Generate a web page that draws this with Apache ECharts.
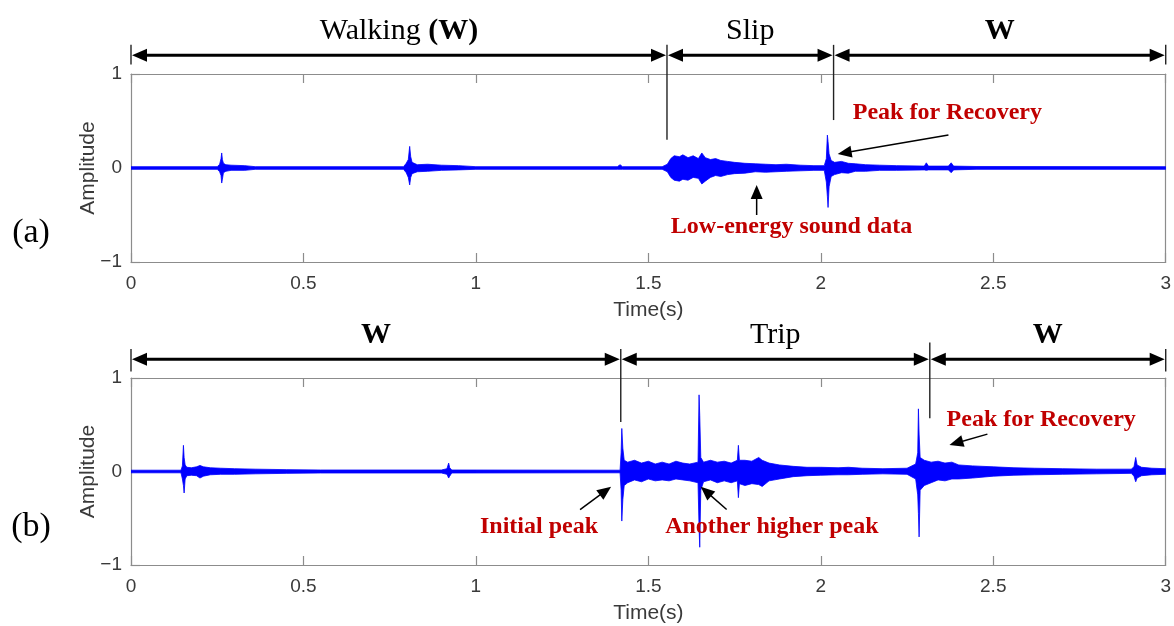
<!DOCTYPE html>
<html>
<head>
<meta charset="utf-8">
<script src="https://cdn.jsdelivr.net/npm/echarts@6/dist/echarts.min.js"></script>
<style>
  html, body { margin: 0; background: #fff; }
  #chart { width: 1174px; height: 626px; }
</style>
</head>
<body>
<div id="chart"></div>
<script>
// (a) slip recording: amplitude envelope (time in s, upper / lower)
const slipTime = [0, 0.25, 0.257, 0.261, 0.263, 0.265, 0.268, 0.275, 0.29, 0.33, 0.36, 0.79, 0.798, 0.804, 0.808, 0.811, 0.815, 0.83, 0.86, 0.9, 0.95, 1.0,
  1.41, 1.418, 1.425, 1.54, 1.555, 1.565, 1.575, 1.59, 1.6, 1.615, 1.63, 1.645, 1.655, 1.665, 1.68, 1.695, 1.71, 1.73, 1.75, 1.78, 1.81, 1.84, 1.87, 1.9, 1.94, 1.98,
  2.01, 2.016, 2.019, 2.021, 2.024, 2.03, 2.04, 2.06, 2.08, 2.1, 2.13, 2.17, 2.22, 2.3, 2.306, 2.312, 2.37, 2.378, 2.385, 2.45, 3]
const slipHi = [0.014, 0.014, 0.04, 0.1, 0.16, 0.09, 0.05, 0.035, 0.03, 0.025, 0.014, 0.014, 0.05, 0.09, 0.23, 0.12, 0.06, 0.035, 0.04, 0.03, 0.025, 0.014,
  0.014, 0.035, 0.014, 0.014, 0.04, 0.1, 0.13, 0.12, 0.14, 0.11, 0.13, 0.1, 0.16, 0.11, 0.09, 0.1, 0.08, 0.07, 0.06, 0.05, 0.045, 0.04, 0.035, 0.04, 0.03, 0.025,
  0.025, 0.1, 0.35, 0.28, 0.15, 0.08, 0.06, 0.07, 0.05, 0.045, 0.035, 0.03, 0.025, 0.02, 0.055, 0.02, 0.02, 0.055, 0.02, 0.016, 0.014]
const slipLo = [-0.014, -0.014, -0.04, -0.08, -0.16, -0.12, -0.05, -0.035, -0.025, -0.025, -0.014, -0.014, -0.05, -0.1, -0.18, -0.1, -0.06, -0.04, -0.035, -0.025, -0.02, -0.014,
  -0.014, -0.014, -0.014, -0.014, -0.04, -0.1, -0.13, -0.14, -0.12, -0.13, -0.1, -0.11, -0.17, -0.14, -0.1, -0.08, -0.09, -0.07, -0.06, -0.055, -0.04, -0.045, -0.04, -0.035, -0.03, -0.025,
  -0.025, -0.15, -0.3, -0.42, -0.2, -0.09, -0.07, -0.05, -0.055, -0.035, -0.035, -0.025, -0.025, -0.02, -0.025, -0.02, -0.02, -0.05, -0.02, -0.014, -0.014]

// (b) trip recording
const tripTime = [0, 0.145, 0.149, 0.152, 0.154, 0.157, 0.162, 0.175, 0.19, 0.2, 0.21, 0.23, 0.26, 0.3, 0.36, 0.45, 0.55, 0.9, 0.916, 0.921, 0.924, 0.93,
  1.418, 1.421, 1.423, 1.426, 1.43, 1.44, 1.46, 1.48, 1.5, 1.52, 1.54, 1.56, 1.58, 1.6, 1.62, 1.644, 1.647, 1.649, 1.652, 1.66, 1.68, 1.7, 1.72, 1.74,
  1.758, 1.761, 1.764, 1.78, 1.8, 1.82, 1.83, 1.85, 1.88, 1.92, 1.96, 2.0, 2.05, 2.08, 2.12, 2.18, 2.25, 2.275, 2.281, 2.283, 2.285, 2.288,
  2.3, 2.32, 2.34, 2.36, 2.38, 2.4, 2.44, 2.5, 2.56, 2.62, 2.7, 2.8, 2.9, 2.908, 2.913, 2.917, 2.93, 2.96, 3]
const tripHi = [0.014, 0.014, 0.06, 0.28, 0.15, 0.07, 0.045, 0.04, 0.05, 0.065, 0.05, 0.04, 0.035, 0.03, 0.025, 0.02, 0.016, 0.016, 0.03, 0.09, 0.04, 0.016,
  0.014, 0.2, 0.46, 0.25, 0.12, 0.1, 0.12, 0.09, 0.11, 0.08, 0.1, 0.08, 0.11, 0.09, 0.08, 0.1, 0.82, 0.6, 0.15, 0.1, 0.12, 0.1, 0.11, 0.09,
  0.12, 0.28, 0.12, 0.12, 0.11, 0.15, 0.12, 0.09, 0.07, 0.055, 0.045, 0.045, 0.04, 0.045, 0.035, 0.03, 0.035, 0.08, 0.2, 0.67, 0.4, 0.15,
  0.12, 0.1, 0.11, 0.09, 0.1, 0.07, 0.06, 0.05, 0.04, 0.035, 0.03, 0.025, 0.025, 0.05, 0.15, 0.07, 0.045, 0.035, 0.03]
const tripLo = [-0.014, -0.014, -0.08, -0.15, -0.23, -0.08, -0.045, -0.04, -0.045, -0.07, -0.05, -0.035, -0.03, -0.03, -0.025, -0.02, -0.016, -0.016, -0.03, -0.07, -0.05, -0.016,
  -0.014, -0.2, -0.53, -0.3, -0.15, -0.12, -0.09, -0.11, -0.08, -0.1, -0.09, -0.1, -0.08, -0.09, -0.1, -0.12, -0.6, -0.81, -0.2, -0.11, -0.09, -0.12, -0.1, -0.12,
  -0.1, -0.28, -0.13, -0.15, -0.13, -0.14, -0.16, -0.1, -0.08, -0.055, -0.045, -0.04, -0.035, -0.035, -0.03, -0.025, -0.03, -0.08, -0.25, -0.45, -0.7, -0.2,
  -0.15, -0.12, -0.09, -0.1, -0.08, -0.08, -0.07, -0.05, -0.04, -0.035, -0.03, -0.025, -0.02, -0.05, -0.11, -0.07, -0.045, -0.035, -0.03]

// gait phases (boundaries in s)
const slipPhases = [0, 1.554, 2.037, 3]
const slipPhaseNames = ['Walking (W)', 'Slip', 'W']
const tripPhases = [0, 1.42, 2.316, 3]
const tripPhaseNames = ['W', 'Trip', 'W']

const BLUE = '#0000ff'
const RED = '#c00000'
const SERIF = '"Liberation Serif", "Times New Roman", serif'
const SANS = '"Liberation Sans", Arial, sans-serif'

const chart = echarts.init(document.getElementById('chart'))

// whole envelope drawn once as a single polygon (upper edge, then lower edge back)
const bandRender = (times, hi, lo) => (params, api) => {
  if (params.dataIndex !== 0) return null
  const pts = []
  for (let i = 0; i < times.length; i++) pts.push(api.coord([times[i], hi[i]]))
  for (let i = times.length - 1; i >= 0; i--) pts.push(api.coord([times[i], lo[i]]))
  return {
    type: 'polygon',
    shape: { points: pts },
    style: { fill: BLUE, stroke: BLUE, lineWidth: 0.8, lineJoin: 'round' }
  }
}

const head = (tip, dx, dy, len, half) => {
  // triangle pointing along (dx, dy)
  const bx = tip[0] - dx * len, by = tip[1] - dy * len
  return [tip, [bx - dy * half, by + dx * half], [bx + dy * half, by - dx * half]]
}

const phaseRender = (bounds, names) => (params, api) => {
  const i = params.dataIndex
  const a = api.coord([bounds[i], 1.2])
  const b = api.coord([bounds[i + 1], 1.2])
  const mid = api.coord([(bounds[i] + bounds[i + 1]) / 2, 1.46])
  const name = names[i]
  let text = '{r|' + name + '}'
  if (name === 'W') text = '{b|W}'
  else if (name.endsWith('(W)')) text = '{r|' + name.replace('(W)', '') + '}{b|(W)}'
  return {
    type: 'group',
    children: [
      { type: 'line', shape: { x1: a[0] + 10, y1: a[1], x2: b[0] - 10, y2: b[1] }, style: { stroke: '#000', lineWidth: 3 } },
      { type: 'polygon', shape: { points: head([a[0] + 1, a[1]], -1, 0, 15, 6.5) }, style: { fill: '#000' } },
      { type: 'polygon', shape: { points: head([b[0] - 1, b[1]], 1, 0, 15, 6.5) }, style: { fill: '#000' } },
      {
        type: 'text',
        style: {
          text: text, x: mid[0], y: mid[1], align: 'center', verticalAlign: 'middle',
          rich: {
            r: { fontFamily: SERIF, fontSize: 30, fill: '#000' },
            b: { fontFamily: SERIF, fontSize: 30, fontWeight: 'bold', fill: '#000' }
          }
        }
      }
    ]
  }
}

const markRender = (rows) => (params, api) => {
  const r = rows[params.dataIndex]
  const p1 = api.coord([r[0], r[1]])
  const p2 = api.coord([r[0], r[2]])
  return { type: 'line', shape: { x1: p1[0], y1: p1[1], x2: p2[0], y2: p2[1] }, style: { stroke: '#222', lineWidth: 1.4 } }
}

const slipMarks = [[0, 1.31, 1.1], [slipPhases[1], 1.31, 0.3], [slipPhases[2], 1.31, 0.51], [3, 1.31, 1.1]]
const tripMarks = [[0, 1.31, 1.07], [tripPhases[1], 1.31, 0.53], [tripPhases[2], 1.38, 0.57], [3, 1.31, 1.07]]

const grids = [
  { left: 131, top: 74, width: 1036, height: 188 },
  { left: 131, top: 378, width: 1036, height: 187 }
]

const axisLine = { show: true, onZero: false, lineStyle: { color: '#8c8c8c', width: 1.2 } }
const tickStyle = { show: true, inside: true, length: 9, lineStyle: { color: '#8c8c8c', width: 1.2 } }
const labelStyle = { color: '#3a3a3a', fontFamily: SANS, fontSize: 19 }
const nameStyle = { color: '#3a3a3a', fontFamily: SANS, fontSize: 21 }

const xAxes = [], yAxes = []
grids.forEach((g, k) => {
  xAxes.push({
    type: 'value', gridIndex: k, min: 0, max: 3, interval: 0.5, position: 'bottom',
    name: 'Time(s)', nameLocation: 'middle', nameGap: 38, nameTextStyle: nameStyle,
    axisLine: axisLine, axisTick: tickStyle, splitLine: { show: false },
    axisLabel: Object.assign({ margin: 12 }, labelStyle)
  })
  xAxes.push({
    type: 'value', gridIndex: k, min: 0, max: 3, interval: 0.5, position: 'top',
    axisLine: axisLine, axisTick: tickStyle, splitLine: { show: false }, axisLabel: { show: false }
  })
  yAxes.push({
    type: 'value', gridIndex: k, min: -1, max: 1, interval: 1, position: 'left',
    name: 'Amplitude', nameLocation: 'middle', nameGap: 32, nameMoveOverlap: false, nameTextStyle: nameStyle,
    axisLine: axisLine, axisTick: tickStyle, splitLine: { show: false },
    axisLabel: Object.assign({ margin: 9, formatter: v => (v < 0 ? '\u2212' + Math.abs(v) : String(v)) }, labelStyle)
  })
  yAxes.push({
    type: 'value', gridIndex: k, min: -1, max: 1, interval: 1, position: 'right',
    axisLine: axisLine, axisTick: { show: false }, splitLine: { show: false }, axisLabel: { show: false }
  })
})

chart.setOption({
  animation: false,
  backgroundColor: '#fff',
  grid: grids,
  xAxis: xAxes,
  yAxis: yAxes,
  series: [
    {
      type: 'custom', xAxisIndex: 0, yAxisIndex: 0, clip: true,
      data: slipTime.map((t, i) => [t, slipHi[i], slipLo[i]]),
      encode: { x: 0, y: [1, 2] },
      renderItem: bandRender(slipTime, slipHi, slipLo)
    },
    {
      type: 'custom', xAxisIndex: 2, yAxisIndex: 2, clip: true,
      data: tripTime.map((t, i) => [t, tripHi[i], tripLo[i]]),
      encode: { x: 0, y: [1, 2] },
      renderItem: bandRender(tripTime, tripHi, tripLo)
    },
    {
      type: 'custom', xAxisIndex: 0, yAxisIndex: 0, clip: false, z: 5,
      data: slipPhaseNames.map((n, i) => [slipPhases[i], slipPhases[i + 1]]),
      renderItem: phaseRender(slipPhases, slipPhaseNames)
    },
    {
      type: 'custom', xAxisIndex: 2, yAxisIndex: 2, clip: false, z: 5,
      data: tripPhaseNames.map((n, i) => [tripPhases[i], tripPhases[i + 1]]),
      renderItem: phaseRender(tripPhases, tripPhaseNames)
    },
    {
      type: 'custom', xAxisIndex: 0, yAxisIndex: 0, clip: false, z: 5,
      data: slipMarks.map(r => [r[0], r[1]]),
      renderItem: markRender(slipMarks)
    },
    {
      type: 'custom', xAxisIndex: 2, yAxisIndex: 2, clip: false, z: 5,
      data: tripMarks.map(r => [r[0], r[1]]),
      renderItem: markRender(tripMarks)
    }
  ]
})

// red call-outs: [grid, text, text centre, arrow tail, arrow tip] in data units
const notes = [
  [0, 'Peak for Recovery', [2.367, 0.585], [2.37, 0.35], [2.049, 0.149]],
  [0, 'Low-energy sound data', [1.915, -0.628], [1.814, -0.5], [1.814, -0.18]],
  [1, 'Peak for Recovery', [2.639, 0.55], [2.483, 0.4], [2.373, 0.284]],
  [1, 'Another higher peak', [1.858, -0.588], [1.727, -0.407], [1.652, -0.163]],
  [1, 'Initial peak', [1.183, -0.588], [1.302, -0.407], [1.392, -0.163]]
]

const graphics = []
notes.forEach(n => {
  const px = v => chart.convertToPixel({ gridIndex: n[0] }, v)
  const c = px(n[2]), from = px(n[3]), to = px(n[4])
  const dx = to[0] - from[0], dy = to[1] - from[1]
  const len = Math.sqrt(dx * dx + dy * dy)
  const ux = dx / len, uy = dy / len
  graphics.push({
    type: 'text', x: c[0], y: c[1], z: 10,
    style: { text: n[1], fill: RED, font: 'bold 24px ' + SERIF, align: 'center', verticalAlign: 'middle' }
  })
  graphics.push({
    type: 'line', z: 10,
    shape: { x1: from[0], y1: from[1], x2: to[0] - ux * 10, y2: to[1] - uy * 10 },
    style: { stroke: '#000', lineWidth: 1.5 }
  })
  graphics.push({
    type: 'polygon', z: 10,
    shape: { points: head(to, ux, uy, 14, 6) },
    style: { fill: '#000' }
  })
})
graphics.push({ type: 'text', x: 31, y: 233, style: { text: '(a)', font: '34px ' + SERIF, fill: '#000', align: 'center', verticalAlign: 'middle' } })
graphics.push({ type: 'text', x: 31, y: 527, style: { text: '(b)', font: '34px ' + SERIF, fill: '#000', align: 'center', verticalAlign: 'middle' } })

chart.setOption({ graphic: graphics })
</script>
</body>
</html>
